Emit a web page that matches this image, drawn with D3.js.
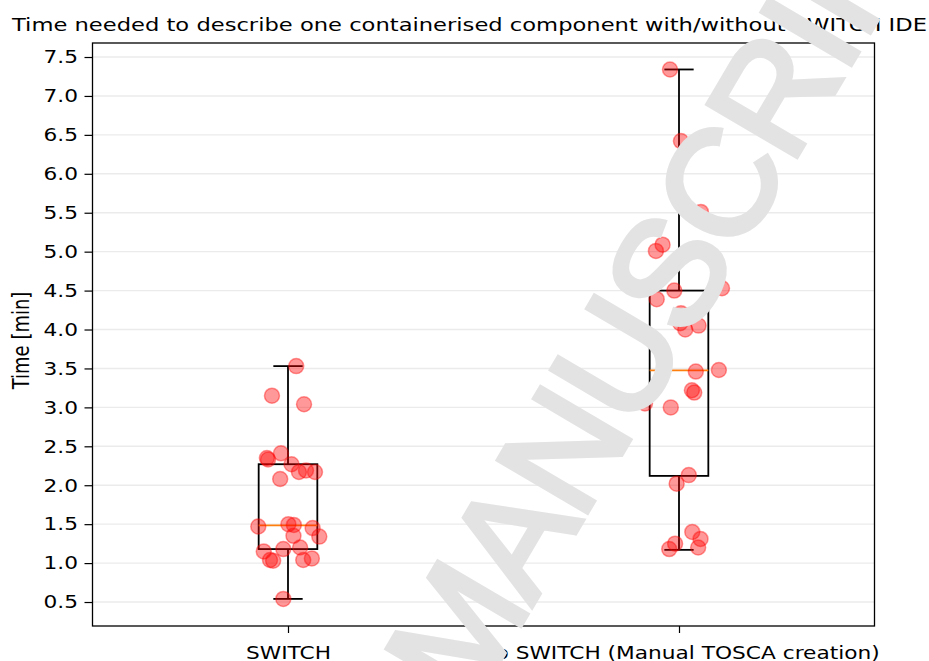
<!DOCTYPE html>
<html>
<head>
<meta charset="utf-8">
<script src="https://cdn.jsdelivr.net/npm/d3@7"></script>
<style>
  html, body { margin: 0; padding: 0; background: #ffffff; }
  svg { display: block; }
  text { font-family: "DejaVu Sans", sans-serif; }
</style>
</head>
<body>
<svg id="chart" width="929" height="661"></svg>
<script>
// ---------- data ----------
const title = "Time needed to describe one containerised component with/without SWITCH IDE";
const yLabel = "Time [min]";
const categories = ["SWITCH", "No SWITCH (Manual TOSCA creation)"];
const yTicks = [0.5, 1.0, 1.5, 2.0, 2.5, 3.0, 3.5, 4.0, 4.5, 5.0, 5.5, 6.0, 6.5, 7.0, 7.5];

const switchTimes  = [3.53, 3.15, 3.04, 2.41, 2.35, 2.33, 2.27, 2.17, 2.19, 2.17, 2.08, 1.47, 1.50,
                      1.49, 1.45, 1.35, 1.34, 1.18, 1.20, 1.15, 1.04, 1.03, 1.04, 1.06, 0.54];
const switchJitter = [0.021, -0.041, 0.041, -0.018, -0.054, -0.051, 0.009, 0.028, 0.046, 0.069, -0.020, -0.076, 0.001,
                      0.015, 0.063, 0.014, 0.080, -0.012, 0.031, -0.062, -0.046, -0.038, 0.039, 0.061, -0.012];

const noSwitchTimes  = [7.34, 6.42, 5.51, 5.09, 5.01, 4.53, 4.50, 4.39, 4.21, 4.08, 4.05, 4.00, 3.46,
                        3.48, 3.22, 3.19, 3.05, 3.00, 2.13, 2.02, 1.40, 1.31, 1.25, 1.18, 1.20];
const noSwitchJitter = [-0.023, 0.005, 0.056, -0.042, -0.059, 0.110, -0.012, -0.057, 0.005, 0.003, 0.050, 0.016, 0.043,
                        0.102, 0.033, 0.039, -0.087, -0.021, 0.025, -0.006, 0.034, 0.055, -0.010, -0.025, 0.049];

// box statistics per category
const whiskerLow  = [0.54, 1.17];
const q1          = [1.18, 2.12];
const medians     = [1.485, 3.476];
const q3          = [2.27, 4.50];
const whiskerHigh = [3.53, 7.34];

const watermark = "MANUSCRIPT";

// ---------- layout ----------
const svg = d3.select("#chart");
const plot = { left: 92.5, right: 874.5, top: 43, bottom: 626 };
const SX = 1.24; // horizontal stretch of the original text
const FS = 17.5;

const x = d3.scaleLinear().domain([0.5, 2.5]).range([plot.left, plot.right]);
const y = d3.scaleLinear().domain([0.192, 7.68]).range([plot.bottom, plot.top]);

const boxHalf = 0.075;   // box width 0.15 in category units
const capHalf = 0.0375;

// grid
svg.append("g").selectAll("line").data(yTicks).join("line")
  .attr("x1", plot.left).attr("x2", plot.right)
  .attr("y1", d => y(d)).attr("y2", d => y(d))
  .attr("stroke", "#ebebeb").attr("stroke-width", 1.4);

// box plots
const boxes = svg.append("g");
categories.forEach((c, i) => {
  const p = i + 1;
  const g = boxes.append("g");
  const line = (x1, y1, x2, y2, col) => g.append("line")
    .attr("x1", x(x1)).attr("x2", x(x2)).attr("y1", y(y1)).attr("y2", y(y2))
    .attr("stroke", col || "#000").attr("stroke-width", 1.8);
  g.append("rect")
    .attr("x", x(p - boxHalf)).attr("y", y(q3[i]))
    .attr("width", x(p + boxHalf) - x(p - boxHalf))
    .attr("height", y(q1[i]) - y(q3[i]))
    .attr("fill", "none").attr("stroke", "#000").attr("stroke-width", 1.8);
  line(p, q3[i], p, whiskerHigh[i]);
  line(p, q1[i], p, whiskerLow[i]);
  line(p - capHalf, whiskerHigh[i], p + capHalf, whiskerHigh[i]);
  line(p - capHalf, whiskerLow[i], p + capHalf, whiskerLow[i]);
  line(p - boxHalf, medians[i], p + boxHalf, medians[i], "#ff7f0e");
});

// points
const pts = [];
switchTimes.forEach((v, k) => pts.push({ p: 1 + switchJitter[k], v }));
noSwitchTimes.forEach((v, k) => pts.push({ p: 2 + noSwitchJitter[k], v }));
svg.append("g").selectAll("circle").data(pts).join("circle")
  .attr("cx", d => x(d.p)).attr("cy", d => y(d.v)).attr("r", 7.5)
  .attr("fill", "rgba(255,0,0,0.4)")
  .attr("stroke", "rgba(255,0,0,0.4)").attr("stroke-width", 1.5);

// frame
svg.append("rect")
  .attr("x", plot.left).attr("y", plot.top)
  .attr("width", plot.right - plot.left).attr("height", plot.bottom - plot.top)
  .attr("fill", "none").attr("stroke", "#000").attr("stroke-width", 1.3);

// y axis
const yAxis = svg.append("g").attr("transform", `translate(${plot.left},0)`)
  .call(d3.axisLeft(y).tickValues(yTicks).tickFormat(d3.format(".1f")).tickSize(8).tickPadding(0));
yAxis.select(".domain").remove();
yAxis.selectAll(".tick line").attr("stroke", "#000").attr("stroke-width", 1.2);
yAxis.selectAll(".tick text")
  .attr("x", 0).attr("dy", null)
  .attr("transform", `translate(-14.5,0) scale(${SX},1)`)
  .attr("dominant-baseline", "central")
  .attr("font-size", FS).attr("fill", "#000")
  .style("font-family", "DejaVu Sans");

// x axis
const xAxis = svg.append("g").attr("transform", `translate(0,${plot.bottom})`)
  .call(d3.axisBottom(x).tickValues([1, 2]).tickFormat(d => categories[d - 1]).tickSize(7).tickPadding(0));
xAxis.select(".domain").remove();
xAxis.selectAll(".tick line").attr("stroke", "#000").attr("stroke-width", 1.2);
xAxis.selectAll(".tick text")
  .attr("y", 0).attr("dy", null)
  .attr("transform", `translate(0,32.5) scale(${SX},1)`)
  .attr("font-size", FS).attr("fill", "#000")
  .style("font-family", "DejaVu Sans");

// y label
svg.append("text")
  .attr("transform", `translate(29,${(plot.top + plot.bottom) / 2 + 6}) rotate(-90) scale(1,${SX})`)
  .attr("text-anchor", "middle")
  .attr("font-size", 18).attr("fill", "#000")
  .text(yLabel);

// title
svg.append("text")
  .attr("x", 12).attr("y", 30.5)
  .attr("font-size", FS).attr("fill", "#000")
  .attr("textLength", 915).attr("lengthAdjust", "spacingAndGlyphs")
  .text(title);

// watermark (drawn over everything, as in the reference); anchored on the centre of its "S"
svg.append("g")
  .attr("transform", "translate(667,271) rotate(-59.5)")
  .append("text")
  .attr("x", "-3.1975em").attr("dy", "0.358em")
  .attr("font-size", 150)
  .attr("letter-spacing", "-0.02em")
  .style("font-family", "Liberation Sans")
  .attr("fill", "#e3e3e3")
  .attr("stroke", "#e3e3e3").attr("stroke-width", 5).attr("stroke-linejoin", "miter")
  .text(watermark);
</script>
</body>
</html>
